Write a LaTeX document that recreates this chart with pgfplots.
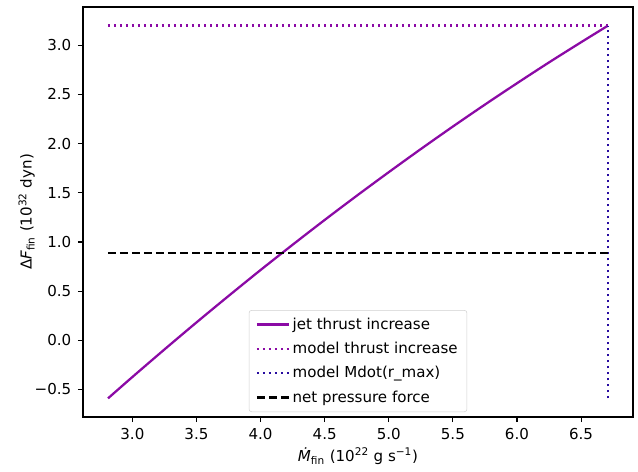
\documentclass[border=0pt]{standalone}
\usepackage{pgfplots}
\pgfplotsset{compat=1.18}
\usepackage{fontspec}
\setmainfont{DejaVu Sans}

\definecolor{jetpurple}{RGB}{139,10,165}
\definecolor{mdotblue}{RGB}{40,12,160}

% jet thrust increase vs final mass flux
\pgfplotstableread{
x     y
2.81  -0.590
3.00  -0.373
3.25  -0.093
3.50   0.182
3.75   0.451
4.00   0.715
4.25   0.972
4.50   1.224
4.75   1.470
5.00   1.710
5.25   1.945
5.50   2.174
5.75   2.397
6.00   2.614
6.25   2.826
6.50   3.031
6.71   3.200
}\jetthrust

\begin{document}
\fontsize{11.3}{13.5}\selectfont
\begin{tikzpicture}
\begin{axis}[
  scale only axis,
  width=412.5pt, height=307.5pt,
  xmin=2.615, xmax=6.905,
  ymin=-0.7795, ymax=3.3895,
  xtick={3.0,3.5,4.0,4.5,5.0,5.5,6.0,6.5},
  xticklabels={3.0,3.5,4.0,4.5,5.0,5.5,6.0,6.5},
  ytick={-0.5,0,0.5,1.0,1.5,2.0,2.5,3.0},
  yticklabels={−0.5,0.0,0.5,1.0,1.5,2.0,2.5,3.0},
  tick align=outside,
  xtick pos=bottom, ytick pos=left,
  major tick length=3.8pt,
  tick style={black, line width=0.85pt},
  axis line style={line width=0.85pt},
  tick label style={font=\fontsize{11.3}{13.5}\selectfont},
  xticklabel style={yshift=-1pt},
  yticklabel style={xshift=-1pt},
  xlabel={\textit{Ṁ}\textsubscript{fin} (10\textsuperscript{22} g s\textsuperscript{−1})},
  ylabel={Δ\textit{F}\textsubscript{fin} (10\textsuperscript{32} dyn)},
  label style={font=\fontsize{11.3}{13.5}\selectfont},
  xlabel style={at={(rel axis cs:0.5,0)}, anchor=north, yshift=-22.5pt, inner sep=0pt},
  ylabel style={at={(rel axis cs:0,0.5)}, anchor=south, yshift=36pt, inner sep=0pt},
  legend cell align=left,
  legend style={
    at={(0.5,0.012)}, anchor=south,
    draw=black!18, rounded corners=2pt, fill=white, fill opacity=0.8, text opacity=1,
    font=\fontsize{11.3}{13.5}\selectfont,
    row sep=4pt, inner xsep=5pt, inner ysep=3.5pt,
  },
  legend image code/.code={\draw[#1] (0pt,0pt) -- (24pt,0pt);},
]
\addplot[jetpurple, line width=1.7pt, smooth] table[x=x, y=y] {\jetthrust};
\addlegendentry{jet thrust increase}
\addplot[jetpurple, line width=1.7pt, dash pattern=on 1.7pt off 2.8pt] coordinates {(2.81,3.20) (6.71,3.20)};
\addlegendentry{model thrust increase}
\addplot[mdotblue, line width=1.7pt, dash pattern=on 1.7pt off 2.8pt] coordinates {(6.71,-0.59) (6.71,3.20)};
\addlegendentry{model Mdot(r\_max)}
\addplot[black, line width=1.7pt, dash pattern=on 6.3pt off 2.7pt] coordinates {(2.81,0.89) (6.71,0.89)};
\addlegendentry{net pressure force}
\end{axis}
% page margins around the plot area
\path (current axis.south west) ++(-62.25pt,-40.5pt);
\path (current axis.north east) ++(3.75pt,5.25pt);
\end{tikzpicture}
\end{document}
